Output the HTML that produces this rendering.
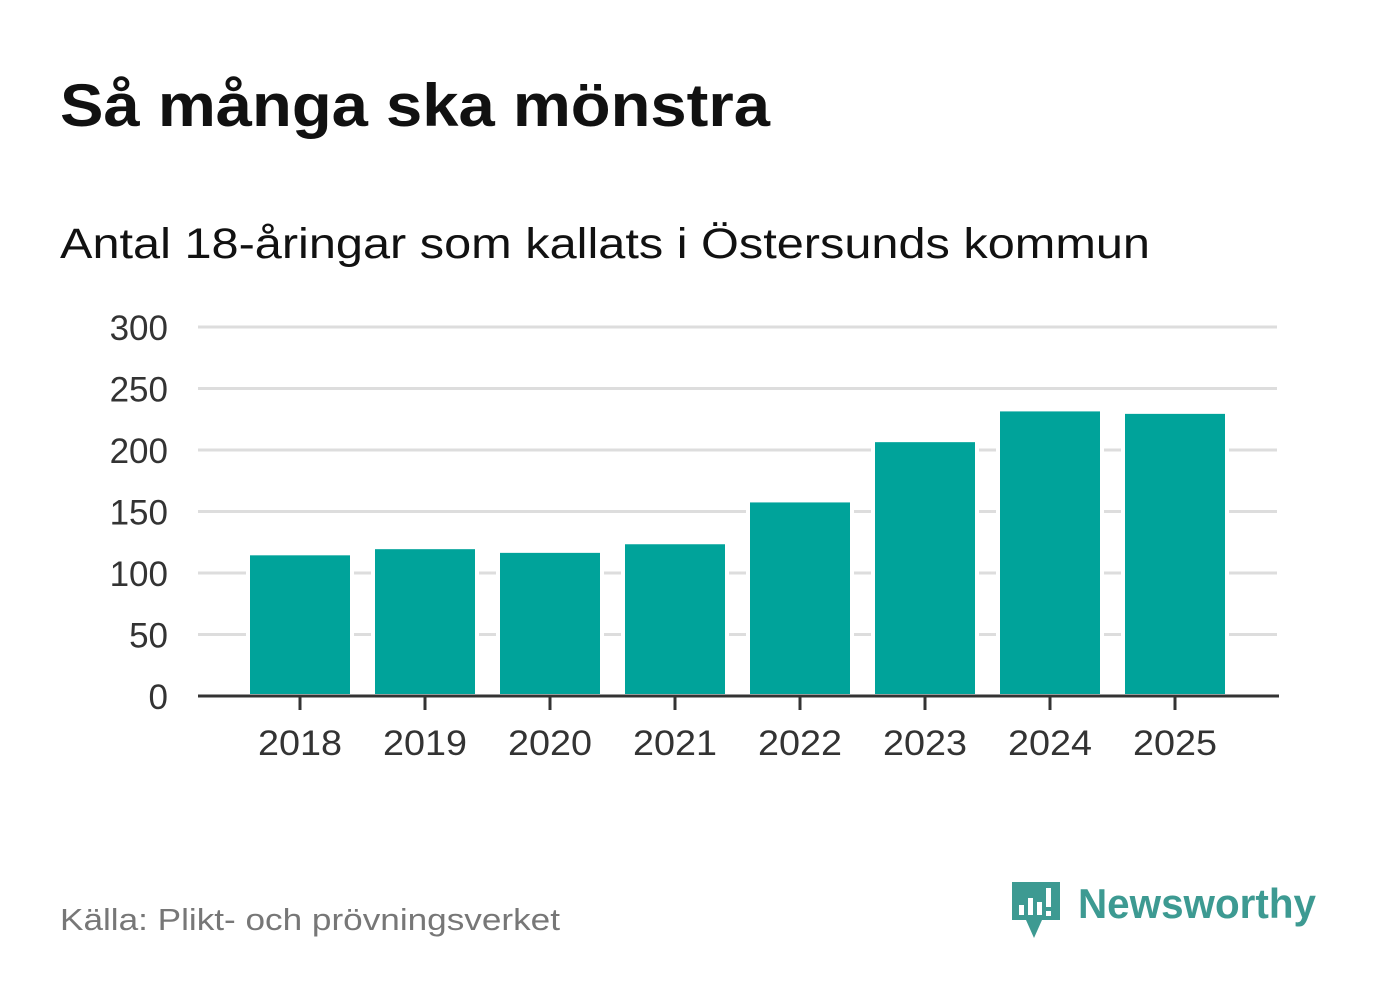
<!DOCTYPE html>
<html><head><meta charset="utf-8"><style>
body{margin:0;width:1382px;height:999px;background:#fff;font-family:"Liberation Sans",sans-serif;overflow:hidden}
svg text{font-family:"Liberation Sans",sans-serif}
</style></head><body>
<svg width="1382" height="999">
<text x="60" y="126" font-size="60" font-weight="bold" fill="#111" textLength="710" lengthAdjust="spacingAndGlyphs">Så många ska mönstra</text>
<text x="60" y="258" font-size="43" fill="#111" textLength="1090" lengthAdjust="spacingAndGlyphs">Antal 18-åringar som kallats i Östersunds kommun</text>
<g id="grid"></g><g id="bars"></g><g id="axes"></g>
<text x="60" y="930" font-size="31" fill="#777" textLength="500" lengthAdjust="spacingAndGlyphs">Källa: Plikt- och prövningsverket</text>
<g>
<path d="M1012 882 h48 v38 h-18 l-8 18 l-8 -18 h-14 z" fill="#3d9a92"/>
<rect x="1019" y="905" width="5" height="10" fill="#fff"/><rect x="1028" y="898" width="5" height="17" fill="#fff"/><rect x="1037" y="902" width="5" height="13" fill="#fff"/><rect x="1046" y="888" width="5" height="19" fill="#fff"/><rect x="1046" y="911" width="5" height="5" fill="#fff"/>
<text x="1078" y="918" font-size="42" font-weight="bold" fill="#3d9a92" textLength="238" lengthAdjust="spacingAndGlyphs">Newsworthy</text>
</g>
</svg>
<script>
const categories=["2018","2019","2020","2021","2022","2023","2024","2025"];
const values=[116,121,118,125,159,208,233,231];
const ticks=[0,50,100,150,200,250,300];
const ns="http://www.w3.org/2000/svg";
const y0=696,yTop=327,yMax=300;
const y=v=>y0-(v/yMax)*(y0-yTop);
const x=i=>300+i*125;
function mk(t,a,p){const e=document.createElementNS(ns,t);for(const k in a)e.setAttribute(k,a[k]);p.appendChild(e);return e;}
const g=document.getElementById('grid'),b=document.getElementById('bars'),ax=document.getElementById('axes');
ticks.forEach(t=>{
 if(t>0){const l=mk('line',{x1:198,x2:1277,y1:y(t),y2:y(t),stroke:'#ddd','stroke-width':3},g);
 
 }
 const tx=mk('text',{x:168,y:y(t)+13,'font-size':35,'text-anchor':'end',fill:'#333'},ax);tx.textContent=t;
 
 
});
categories.forEach((c,i)=>{
 const r=mk('rect',{x:x(i)-52,y:y(values[i]),width:104,height:y0-y(values[i]),fill:'#00a39a',stroke:'#fff','stroke-width':4},b);
 
 
 mk('line',{x1:x(i),x2:x(i),y1:y0,y2:y0+14,stroke:'#333','stroke-width':3},ax);
 const tx=mk('text',{x:x(i),y:755,'font-size':35,'text-anchor':'middle',fill:'#333',textLength:84,lengthAdjust:'spacingAndGlyphs'},ax);tx.textContent=c;
 
 
});
const base=mk('line',{x1:198,x2:1279,y1:y0,y2:y0,stroke:'#333','stroke-width':3},ax);


</script>
</body></html>
